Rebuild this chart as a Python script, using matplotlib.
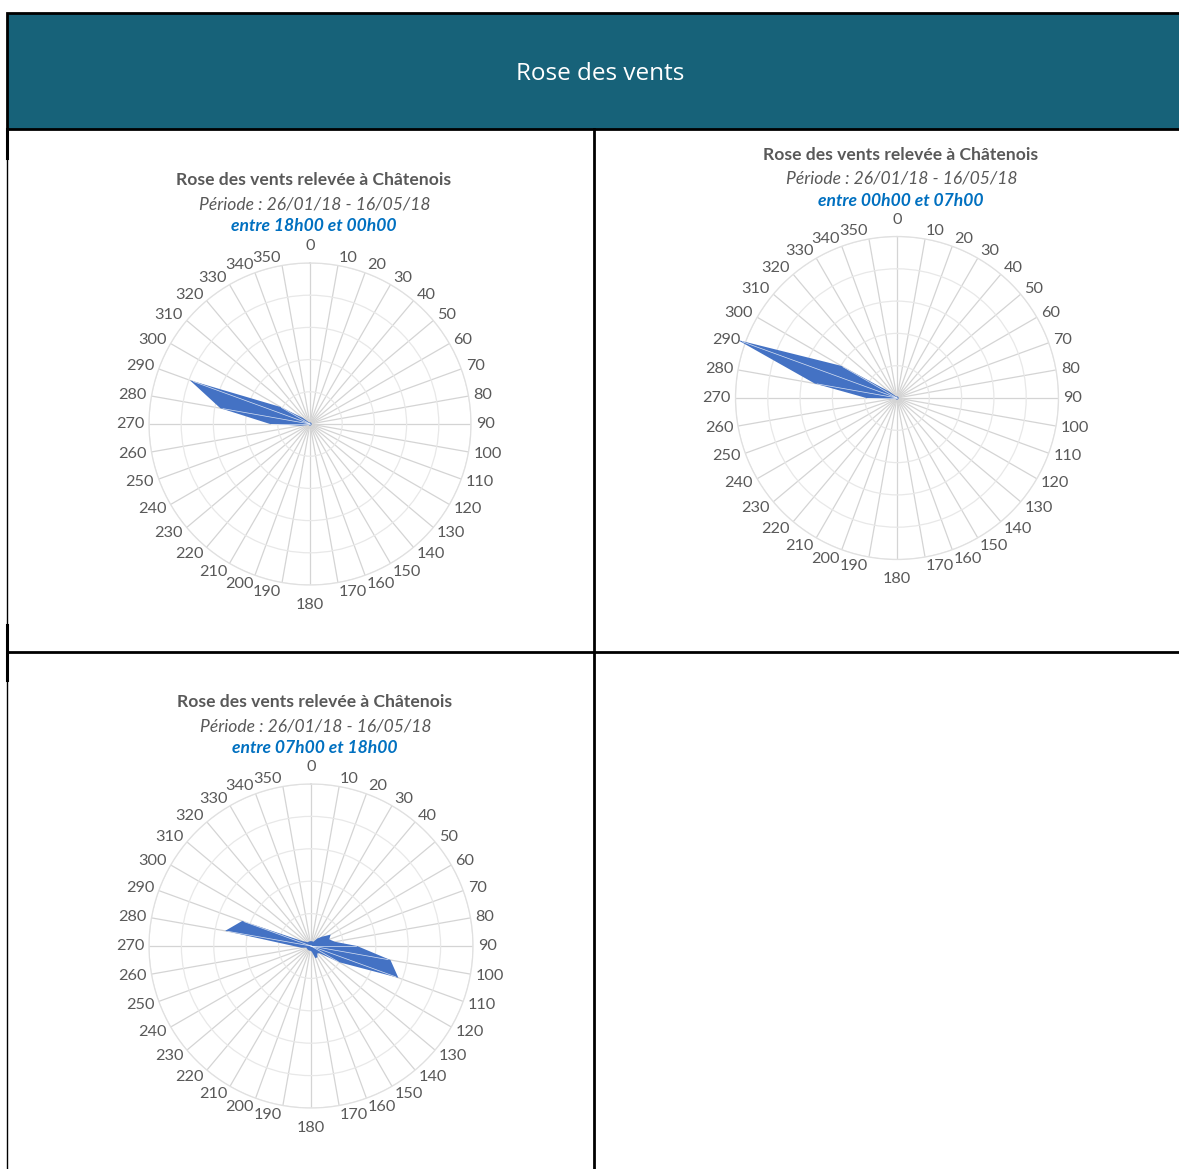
import numpy as np
import matplotlib
matplotlib.use("Agg")
import matplotlib.pyplot as plt
from matplotlib.patches import Rectangle
from matplotlib.lines import Line2D

W, H = 1179, 1169

# directions (degrees) and frequencies per time slot (arbitrary units, 5 rings)
directions = list(range(0, 360, 10))

evening = [0.05, 0.05, 0.05, 0.05, 0.05, 0.05, 0.05, 0.05, 0.05,
           0.05, 0.05, 0.05, 0.05, 0.05, 0.05, 0.05, 0.05, 0.05,
           0.05, 0.05, 0.05, 0.05, 0.05, 0.05, 0.05, 0.1, 0.3,
           1.24, 2.83, 3.97, 1.06, 0.3, 0.1, 0.05, 0.05, 0.05]

night = [0.05, 0.05, 0.05, 0.05, 0.05, 0.05, 0.05, 0.05, 0.05,
         0.05, 0.05, 0.05, 0.05, 0.05, 0.05, 0.05, 0.05, 0.05,
         0.05, 0.05, 0.05, 0.05, 0.05, 0.05, 0.05, 0.05, 0.2,
         0.95, 2.59, 5.25, 1.99, 0.3, 0.1, 0.05, 0.05, 0.05]

day = [0.15, 0.15, 0.15, 0.15, 0.3, 0.45, 0.7, 0.6, 0.75,
       1.42, 2.49, 2.87, 1.0, 0.35, 0.3, 0.4, 0.4, 0.2,
       0.15, 0.15, 0.15, 0.15, 0.15, 0.15, 0.15, 0.15, 0.3,
       0.54, 2.69, 2.26, 0.3, 0.2, 0.15, 0.15, 0.15, 0.15]

title = "Rose des vents relevée à Châtenois"
period = "Période : 26/01/18 - 16/05/18"
slots = ["entre 18h00 et 00h00", "entre 00h00 et 07h00", "entre 07h00 et 18h00"]

FONT = "Lato"
GREY = "#595959"
FILL = "#4472C4"
PT = 0.72  # points per pixel at dpi 100

fig = plt.figure(figsize=(W / 100, H / 100), dpi=100)


def fx(x):
    return x / W


def fy(y):
    return 1 - y / H


def line(x0, y0, x1, y1, lw):
    fig.add_artist(Line2D([fx(x0), fx(x1)], [fy(y0), fy(y1)], color="black",
                          lw=lw, transform=fig.transFigure))


# header band
fig.add_artist(Rectangle((fx(7), fy(129)), fx(1179) - fx(7) + 0.01, fy(13) - fy(129),
                         facecolor="#176279", edgecolor="black", lw=2,
                         transform=fig.transFigure))
fig.text(fx(600), fy(74), "Rose des vents", color="white", fontsize=17.5,
         family="Open Sans", ha="center", va="center")

# table borders
line(7.5, 129, 7.5, 1169, 1)
line(7.5, 129, 7.5, 158, 2.2)
line(7.5, 625, 7.5, 680, 2.2)
line(594, 129, 594, 1169, 2)
line(7, 651.5, 1179, 651.5, 2)


def rose(cx, cy, R, values, ty, slot):
    ax = fig.add_axes([fx(cx - R), fy(cy + R), 2 * R / W, 2 * R / H], projection="polar")
    ax.set_theta_zero_location("N")
    ax.set_theta_direction(-1)
    ax.set_ylim(0, 5)
    th = np.radians(directions)
    ax.set_xticks(th)
    ax.set_xticklabels([])
    ax.set_yticks([1, 2, 3, 4, 5])
    ax.set_yticklabels([])
    ax.xaxis.grid(True, color="#D4D4D4", lw=0.9)
    ax.yaxis.grid(True, color="#E8E8E8", lw=0.9)
    ax.spines["polar"].set_color("#E0E0E0")
    ax.spines["polar"].set_linewidth(0.9)
    ax.tick_params(length=0)

    v = np.array(values)
    ax.fill(np.append(th, th[0]), np.append(v, v[0]), color=FILL, lw=0, zorder=3,
            clip_on=False)
    # seams like the original filled radar
    for t, r in zip(th, v):
        if r > 0.8:
            ax.plot([t, t], [0, r * 0.97], color="white", lw=0.5, alpha=0.8, zorder=4,
                    clip_on=False)

    # category labels anchored just outside the outer ring, Excel style
    for d, t in zip(directions, th):
        s, c = np.sin(t), np.cos(t)
        if d == 0:
            ha, va, off = "center", "bottom", (0, 5 * PT)
        elif d == 180:
            ha, va, off = "center", "top", (0, -8 * PT)
        else:
            ha = "left" if s > 0 else "right"
            va = "center"
            off = (0, 3 * c * PT if c > 0 else 4.5 * c * PT)
        ax.annotate(str(d), xy=(t, 5 * 1.03), xytext=off, textcoords="offset points",
                    fontsize=11.7, family=FONT, color=GREY, ha=ha, va=va,
                    annotation_clip=False)

    fig.text(fx(cx + 4), fy(ty), title, fontsize=12.6, family=FONT, weight="bold",
             color=GREY, ha="center", va="center")
    fig.text(fx(cx + 5), fy(ty + 24), period, fontsize=12.6, family=FONT, style="italic",
             color=GREY, ha="center", va="center")
    fig.text(fx(cx + 4), fy(ty + 46), slot, fontsize=12.6, family=FONT, style="italic",
             weight="bold", color="#0070C0", ha="center", va="center")


rose(310, 424, 161, evening, 180, slots[0])
rose(897, 398, 161.5, night, 155, slots[1])
rose(311, 946, 162, day, 702, slots[2])

fig.savefig("out.png", dpi=100)
